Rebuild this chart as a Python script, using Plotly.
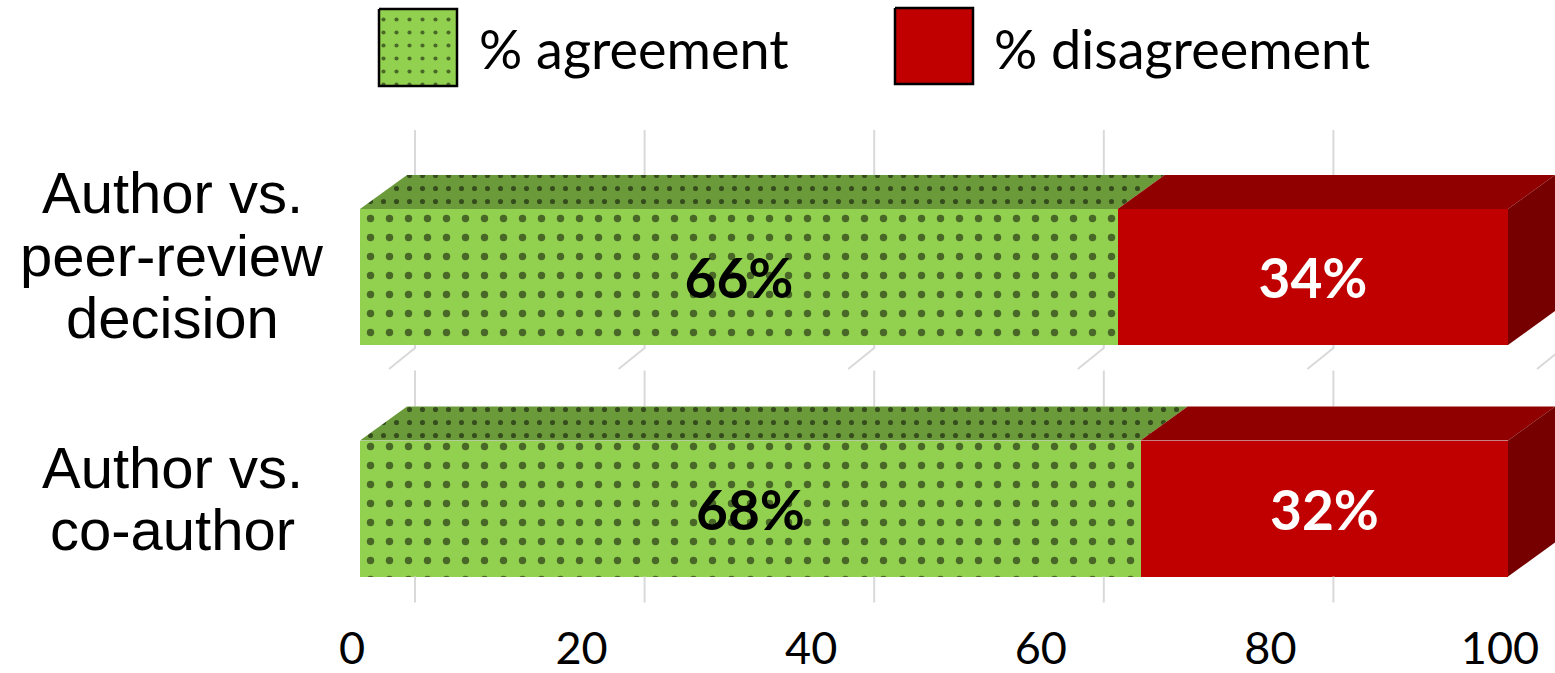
import plotly.graph_objects as go

# ---------------- data ----------------
categories = [["Author vs.", "peer-review", "decision"], ["Author vs.", "co-author"]]
agreement = [66, 68]
disagreement = [34, 32]
tick_vals = [0, 20, 40, 60, 80, 100]
tick_text = ["0", "20", "40", "60", "80", "100"]
series_names = ["% agreement", "% disagreement"]

# ---------------- geometry / style ----------------
W, H = 1555, 673
B = 55
PX_X = 11.48          # px per x unit
X0_PX = 360           # px of x=0 (front plane)
PX_Y = 231.5          # px per category step
Y0_PX = 277           # px of first category centre
plot_h = H - B
x_range = [-X0_PX / PX_X, (W - X0_PX) / PX_X]
y_range = [(plot_h - Y0_PX) / PX_Y, -Y0_PX / PX_Y]

ypos = list(range(len(categories)))
bar_w = 136 / PX_Y
half = bar_w / 2
dx = 47 / PX_X
dy = 34 / PX_Y
grid_dx = 55 / PX_X

GREEN = "#92D050"
GREEN_TOP = "#6A9A3A"
RED = "#C00000"
RED_TOP = "#900000"
RED_SIDE = "#760000"
GRID = "#D9D9D9"

fig = go.Figure()

# ---------------- back-wall gridlines (only visible parts) ----------------
gx, gy = [], []
for v in tick_vals:
    xb = v + grid_dx
    # panel 1 (top category)
    y_c = ypos[0]
    gx += [xb, xb, None]
    gy += [y_c - half - dy - 45 / PX_Y, y_c - half - dy, None]
    gx += [xb, xb, xb - 26 / PX_X, None]
    gy += [y_c + half, y_c + half + 3 / PX_Y, y_c + half + 24 / PX_Y, None]
    # panel 2 (bottom category)
    y_c = ypos[1]
    gx += [xb, xb, None]
    gy += [y_c - half - dy - 36 / PX_Y, y_c - half - dy, None]
    gx += [xb, xb, None]
    gy += [y_c + half, y_c + half + 26 / PX_Y, None]
fig.add_trace(go.Scatter(x=gx, y=gy, mode="lines", line=dict(color=GRID, width=2),
                         hoverinfo="skip", showlegend=False))

# ---------------- front faces (bars) ----------------
fig.add_trace(go.Bar(
    y=ypos, x=agreement, orientation="h", width=bar_w, name=series_names[0],
    marker=dict(color=GREEN, line=dict(width=0),
                pattern=dict(shape=".", fgcolor="black", bgcolor=GREEN,
                             size=19, solidity=0.12, fillmode="overlay")),
    text=[f"{v}%" for v in agreement], textposition="inside",
    insidetextanchor="middle", textangle=0,
    textfont=dict(family="Lato", size=55, color="black", weight="bold"),
    showlegend=False))
fig.add_trace(go.Bar(
    y=ypos, x=disagreement, orientation="h", width=bar_w, name=series_names[1],
    marker=dict(color=RED, line=dict(width=0)),
    text=[f"{v}%" for v in disagreement], textposition="inside",
    insidetextanchor="middle", textangle=0,
    textfont=dict(family="Lato", size=55, color="white", weight="bold"),
    showlegend=False))

# ---------------- top & side faces ----------------
for i, y_c in enumerate(ypos):
    a, d = agreement[i], disagreement[i]
    yt = y_c - half
    # green top
    fig.add_trace(go.Scatter(
        x=[0, a, a + dx, dx, 0], y=[yt, yt, yt - dy, yt - dy, yt],
        mode="lines", fill="toself", line=dict(width=0, color=GREEN_TOP),
        fillcolor=GREEN_TOP,
        fillpattern=dict(shape=".", fgcolor="black", bgcolor=GREEN_TOP,
                         size=13, solidity=0.12, fillmode="overlay"),
        hoverinfo="skip", showlegend=False))
    # red top
    e = a + d
    fig.add_trace(go.Scatter(
        x=[a, e, e + dx, a + dx, a], y=[yt, yt, yt - dy, yt - dy, yt],
        mode="lines", fill="toself", line=dict(width=0, color=RED_TOP),
        fillcolor=RED_TOP, hoverinfo="skip", showlegend=False))
    # red side
    fig.add_trace(go.Scatter(
        x=[e, e + dx, e + dx, e, e], y=[yt, yt - dy, y_c + half - dy, y_c + half, yt],
        mode="lines", fill="toself", line=dict(width=0, color=RED_SIDE),
        fillcolor=RED_SIDE, hoverinfo="skip", showlegend=False))

# ---------------- legend (pixel overlay axes) ----------------
fig.add_trace(go.Scatter(
    x=[379, 457, 457, 379, 379], y=[9, 9, 86, 86, 9], xaxis="x2", yaxis="y2",
    mode="lines", fill="toself", line=dict(width=2.5, color="black"),
    fillcolor=GREEN,
    fillpattern=dict(shape=".", fgcolor="black", bgcolor=GREEN, size=13,
                     solidity=0.08, fillmode="overlay"),
    hoverinfo="skip", showlegend=False))
fig.add_trace(go.Scatter(
    x=[895, 973, 973, 895, 895], y=[8, 8, 84, 84, 8], xaxis="x2", yaxis="y2",
    mode="lines", fill="toself", line=dict(width=2.5, color="black"),
    fillcolor=RED, hoverinfo="skip", showlegend=False))

annotations = [
    dict(x=477, y=48, xref="x2", yref="y2", text=series_names[0], showarrow=False,
         xanchor="left", yanchor="middle", font=dict(family="Lato", size=54, color="black")),
    dict(x=992, y=48, xref="x2", yref="y2", text=series_names[1], showarrow=False,
         xanchor="left", yanchor="middle", font=dict(family="Lato", size=54, color="black")),
]

# category labels, line by line
label_lines_y = [[192, 255, 317], [467, 529]]
for lines, ys in zip(categories, label_lines_y):
    for t, yy in zip(lines, ys):
        annotations.append(dict(x=172, y=yy, xref="x2", yref="y2", text=t, showarrow=False,
                                xanchor="center", yanchor="middle",
                                font=dict(family="Liberation Sans", size=58, color="black")))

fig.update_layout(
    width=W, height=H,
    margin=dict(l=0, r=0, t=0, b=B),
    paper_bgcolor="white", plot_bgcolor="white",
    barmode="stack", bargap=0,
    showlegend=False,
    annotations=annotations,
    xaxis=dict(range=x_range, tickvals=tick_vals, ticktext=tick_text,
               showgrid=False, zeroline=False, showline=False, ticks="",
               ticklabelshift=-8, automargin=False,
               tickfont=dict(family="Lato", size=45, color="black"), fixedrange=True),
    yaxis=dict(range=y_range, showgrid=False, zeroline=False, showticklabels=False,
               ticks="", fixedrange=True, automargin=False),
    xaxis2=dict(range=[0, W], overlaying="x", anchor="y2", visible=False, fixedrange=True),
    yaxis2=dict(range=[plot_h, 0], overlaying="y", anchor="x2", visible=False, fixedrange=True),
)

fig.write_html("out.html")
